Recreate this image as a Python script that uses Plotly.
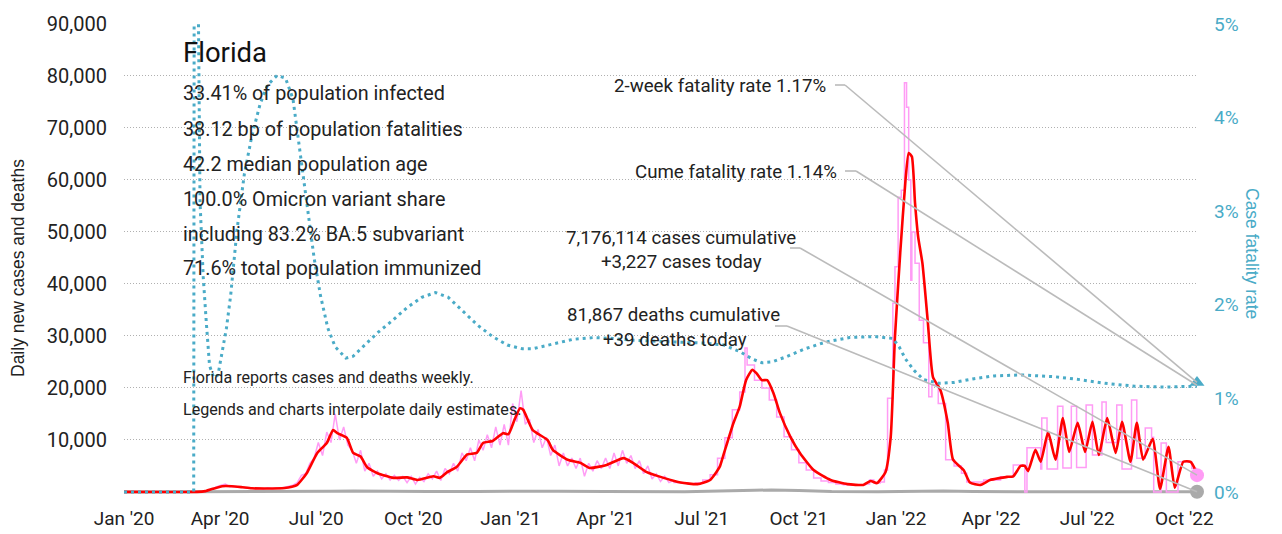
import plotly.graph_objects as go
import pandas as pd

FONT = "Roboto, sans-serif"
TITLE_FONT = "Liberation Sans, Arial, sans-serif"
TEAL = "#4aabc7"
PINK = "#ff9cf5"
RED = "#ff0000"
GRAY = "#aaaaaa"

# ---------------- data ----------------
red_dates = [
    "2020-01-01", "2020-03-10", "2020-03-18", "2020-03-25", "2020-04-03", "2020-04-12",
    "2020-04-22", "2020-05-01", "2020-05-15", "2020-06-01", "2020-06-08", "2020-06-13",
    "2020-06-22", "2020-07-02", "2020-07-11", "2020-07-17", "2020-07-21", "2020-07-30",
    "2020-08-05", "2020-08-12", "2020-08-18", "2020-08-28", "2020-09-12", "2020-09-25",
    "2020-10-05", "2020-10-20", "2020-10-26", "2020-11-02", "2020-11-11", "2020-11-21",
    "2020-11-30", "2020-12-06", "2020-12-15", "2020-12-25", "2020-12-30", "2021-01-05",
    "2021-01-10", "2021-01-13", "2021-01-22", "2021-02-05", "2021-02-10", "2021-02-24",
    "2021-03-08", "2021-03-17", "2021-04-02", "2021-04-18", "2021-04-27", "2021-05-10",
    "2021-05-26", "2021-06-11", "2021-06-27", "2021-07-09", "2021-07-18", "2021-07-21",
    "2021-07-31", "2021-08-06", "2021-08-12", "2021-08-18", "2021-08-22", "2021-08-27",
    "2021-09-01", "2021-09-07", "2021-09-13", "2021-09-23", "2021-10-02", "2021-10-15",
    "2021-10-31", "2021-11-16", "2021-12-01", "2021-12-08", "2021-12-14", "2021-12-22",
    "2021-12-27", "2021-12-31", "2022-01-05", "2022-01-10", "2022-01-13", "2022-01-16",
    "2022-01-19", "2022-01-22", "2022-01-26", "2022-01-31", "2022-02-05", "2022-02-12",
    "2022-02-19", "2022-02-24", "2022-03-06", "2022-03-12", "2022-03-22", "2022-03-31",
    "2022-04-10", "2022-04-16", "2022-04-22", "2022-04-29", "2022-05-03", "2022-05-06",
    "2022-05-13", "2022-05-18", "2022-05-25", "2022-06-01", "2022-06-08", "2022-06-14",
    "2022-06-22", "2022-06-29", "2022-07-06", "2022-07-12", "2022-07-20", "2022-07-28",
    "2022-08-03", "2022-08-11", "2022-08-17", "2022-08-23", "2022-09-01", "2022-09-08",
    "2022-09-16", "2022-09-22", "2022-09-30", "2022-10-07", "2022-10-13",
]
red_vals = [
    0, 0, 150, 600, 1100, 1100,
    900, 700, 650, 750, 1000, 1350,
    3600, 7500, 9400, 11900, 11300, 10400,
    7500, 6800, 4800, 3600, 2700, 2800,
    2300, 3000, 2700, 3800, 4800, 7200,
    7500, 9400, 9800, 11300, 11100, 14000,
    16100, 15800, 11900, 10000, 8100, 6200,
    5600, 4600, 5200, 6500, 5600, 3800,
    2700, 1800, 1500, 2300, 4800, 6700,
    13200, 16400, 21500, 23500, 22800, 21500,
    21500, 19000, 15200, 10600, 7500, 4200,
    2300, 1500, 1350, 2100, 1700, 3800,
    10600, 29800, 46000, 60000, 65200, 64500,
    55600, 49000, 44000, 33000, 22100, 19600,
    13300, 6200, 4200, 1800, 1350, 2300,
    2700, 2900, 3000, 5000, 5000, 4000,
    8100, 5800, 11500, 6200, 14200, 7700,
    13300, 7700, 13500, 7100, 14200, 7500,
    13500, 5800, 13300, 6200, 10200, 600,
    8700, 800, 5800, 5800, 3600,
]

# daily reported cases, daily reporting era (values every 4 days from start)
pink_a_start = "2020-03-01"
pink_a_vals = [
    0, 5, 10, 30, 100, 300, 700, 1000, 1300, 1500,
    1000, 1100, 900, 1000, 700, 800, 600, 700, 500, 800,
    600, 750, 650, 900, 1200, 1300, 1800, 3200, 3500, 5500,
    6500, 9500, 7000, 11500, 9500, 15000, 10000, 12500, 9000, 8000,
    5500, 8000, 4000, 5500, 3000, 4000, 2500, 3500, 2300, 3200,
    2200, 3000, 1800, 3000, 1500, 2800, 2000, 3500, 2500, 4000,
    2200, 4500, 3500, 5500, 4000, 7500, 6000, 8500, 6000, 10000,
    8000, 11000, 8500, 12500, 9000, 13000, 9000, 17000, 13500, 19500,
    13000, 14000, 9500, 12000, 8500, 10500, 7000, 9000, 5000, 7500,
    5000, 6500, 4500, 6500, 3000, 5500, 4000, 6000, 4500, 6500,
    4500, 7500, 5000, 8000, 5500, 7000, 4500, 6000, 3500, 5000,
    2500, 3500, 2000, 3000, 1800, 2200,
]

# reported cases, weekly / batch reporting era (held until next report)
pink_b_dates = [
    "2021-06-04", "2021-06-11", "2021-06-18", "2021-06-25", "2021-07-02", "2021-07-09",
    "2021-07-16", "2021-07-23", "2021-07-30", "2021-08-06", "2021-08-11", "2021-08-13",
    "2021-08-20", "2021-08-27", "2021-09-03", "2021-09-10", "2021-09-17", "2021-09-24",
    "2021-10-01", "2021-10-08", "2021-10-15", "2021-10-22", "2021-10-29", "2021-11-05",
    "2021-11-12", "2021-11-19", "2021-11-26", "2021-12-03", "2021-12-07", "2021-12-11",
    "2021-12-17", "2021-12-21", "2021-12-24", "2021-12-29", "2021-12-31", "2022-01-03",
    "2022-01-06", "2022-01-09", "2022-01-11", "2022-01-13", "2022-01-15", "2022-01-16",
    "2022-01-19", "2022-01-23", "2022-01-27", "2022-02-01", "2022-02-04", "2022-02-10",
    "2022-02-17", "2022-02-25", "2022-03-04", "2022-03-09", "2022-03-25", "2022-04-10",
    "2022-04-22", "2022-05-03", "2022-05-05", "2022-05-18", "2022-05-19", "2022-05-24",
    "2022-06-03", "2022-06-08", "2022-06-16", "2022-06-21", "2022-06-30", "2022-07-06",
    "2022-07-15", "2022-07-19", "2022-07-29", "2022-08-03", "2022-08-12", "2022-08-17",
    "2022-08-25", "2022-08-31", "2022-09-02", "2022-09-09", "2022-09-14", "2022-09-25",
    "2022-10-08", "2022-10-13",
]
pink_b_vals = [
    1800, 1700, 1500, 1700, 2300, 3300,
    6500, 10400, 15800, 19200, 27700, 24400,
    21500, 20000, 17700, 14400, 10600, 8100,
    5600, 4200, 2700, 2100, 1800, 1500,
    1400, 1300, 1400, 1500, 2300, 1700,
    1900, 4200, 18000, 36300, 43300, 56700,
    58000, 78700, 74000, 60000, 40700, 50000,
    44000, 33000, 28700, 18300, 20600, 17000,
    6200, 5000, 3600, 1900, 2300, 2900,
    5200, 0, 8500, 4400, 14200, 4400,
    16500, 4600, 16500, 4700, 16700, 7100,
    17300, 9500, 16700, 4400, 17700, 6500,
    12300, 10500, 0, 9400, 0, 5800,
    4500, 3227,
]

death_dates = [
    "2020-01-01", "2020-03-15", "2020-04-15", "2020-06-01", "2020-07-15", "2020-08-05",
    "2020-09-01", "2020-10-15", "2020-12-01", "2021-01-15", "2021-02-15", "2021-04-01",
    "2021-06-15", "2021-08-20", "2021-09-05", "2021-10-01", "2021-11-01", "2021-12-15",
    "2022-01-25", "2022-02-15", "2022-03-15", "2022-05-01", "2022-07-15", "2022-10-13",
]
death_vals = [
    0, 0, 50, 40, 120, 180,
    120, 70, 90, 180, 150, 70,
    40, 300, 380, 250, 60, 30,
    150, 180, 60, 20, 50, 39,
]

cfr_dates = [
    "2020-01-01", "2020-03-07", "2020-03-08", "2020-03-10", "2020-03-13", "2020-03-16",
    "2020-03-19", "2020-03-22", "2020-03-26", "2020-03-30", "2020-04-03", "2020-04-07",
    "2020-04-11", "2020-04-17", "2020-04-24", "2020-05-01", "2020-05-09", "2020-05-16",
    "2020-05-25", "2020-06-02", "2020-06-09", "2020-06-15", "2020-06-22", "2020-06-29",
    "2020-07-05", "2020-07-12", "2020-07-19", "2020-07-29", "2020-08-05", "2020-08-14",
    "2020-08-28", "2020-09-11", "2020-09-25", "2020-10-09", "2020-10-22", "2020-11-03",
    "2020-11-17", "2020-12-01", "2020-12-15", "2020-12-29", "2021-01-12", "2021-01-22",
    "2021-02-10", "2021-03-01", "2021-03-21", "2021-04-08", "2021-04-27", "2021-05-21",
    "2021-06-14", "2021-07-03", "2021-07-22", "2021-08-06", "2021-08-18", "2021-08-27",
    "2021-09-06", "2021-09-18", "2021-10-07", "2021-10-26", "2021-11-18", "2021-12-12",
    "2021-12-29", "2022-01-04", "2022-01-10", "2022-01-18", "2022-01-27", "2022-02-11",
    "2022-02-25", "2022-03-16", "2022-04-04", "2022-04-30", "2022-06-01", "2022-06-24",
    "2022-07-18", "2022-08-15", "2022-09-12", "2022-10-13",
]
cfr_vals = [
    0, 0, 12.0, 7.0, 3.1, 2.3,
    1.8, 1.35, 1.22, 1.25, 1.5, 1.75,
    2.1, 2.8, 3.4, 3.8, 4.15, 4.35,
    4.45, 4.42, 4.2, 3.7, 3.1, 2.5,
    2.1, 1.75, 1.55, 1.43, 1.45, 1.55,
    1.7, 1.83, 1.97, 2.08, 2.13, 2.08,
    1.93, 1.78, 1.66, 1.57, 1.53, 1.53,
    1.58, 1.63, 1.65, 1.64, 1.62, 1.61,
    1.60, 1.59, 1.57, 1.50, 1.42, 1.38,
    1.39, 1.44, 1.53, 1.60, 1.65, 1.66,
    1.64, 1.55, 1.42, 1.30, 1.20, 1.16,
    1.17, 1.21, 1.24, 1.25, 1.23, 1.20,
    1.16, 1.13, 1.12, 1.13,
]

x_tick_dates = ["2020-01-01", "2020-04-01", "2020-07-01", "2020-10-01", "2021-01-01",
                "2021-04-01", "2021-07-01", "2021-10-01", "2022-01-01", "2022-04-01",
                "2022-07-01", "2022-10-01"]
x_tick_labels = ["Jan '20", "Apr '20", "Jul '20", "Oct '20", "Jan '21", "Apr '21",
                 "Jul '21", "Oct '21", "Jan '22", "Apr '22", "Jul '22", "Oct '22"]
y_tick_vals = [10000, 20000, 30000, 40000, 50000, 60000, 70000, 80000, 90000]
y2_tick_vals = [0, 1, 2, 3, 4, 5]
y2_tick_labels = ["0%", "1%", "2%", "3%", "4%", "5%"]

first_date = "2020-01-01"
last_date = "2022-10-13"
cases_today = 3227
deaths_today = 39
fatality_2wk = 1.17
fatality_cume = 1.14
cases_cum = 7176114
deaths_cum = 81867

state = "Florida"
stats_lines = [
    "33.41% of population infected",
    "38.12 bp of population fatalities",
    "42.2 median population age",
    "100.0% Omicron variant share",
    "including 83.2% BA.5 subvariant",
    "71.6% total population immunized",
]
notes = [
    "Florida reports cases and deaths weekly.",
    "Legends and charts interpolate daily estimates.",
]

# ---------------- layout geometry ----------------
W, H = 1282, 534
ML, MR, MT, MB = 124, 85, 24, 40
PW, PH = W - ML - MR, H - MT - MB
Y0, Y1 = -400, 90000
Y2_0, Y2_1 = Y0 / Y1 * 5, 5


def fx(px):
    return (px - ML) / PW


def fy(py):
    return (H - MB - py) / PH


def yp(v):
    return (v - Y0) / (Y1 - Y0)


def y2p(v):
    return (v - Y2_0) / (Y2_1 - Y2_0)


pink_a_dates = pd.date_range(pink_a_start, periods=len(pink_a_vals), freq="4D")

fig = go.Figure()

fig.add_trace(go.Scatter(x=death_dates, y=death_vals, mode="lines",
                         line=dict(color=GRAY, width=3), hoverinfo="skip"))
fig.add_trace(go.Scatter(x=pink_a_dates, y=pink_a_vals, mode="lines",
                         line=dict(color=PINK, width=1.5), hoverinfo="skip"))
fig.add_trace(go.Scatter(x=pink_b_dates, y=pink_b_vals, mode="lines",
                         line=dict(color=PINK, width=1.5, shape="hv"), hoverinfo="skip"))
fig.add_trace(go.Scatter(x=red_dates, y=red_vals, mode="lines",
                         line=dict(color=RED, width=2.6, shape="spline", smoothing=0.5),
                         hoverinfo="skip"))
fig.add_trace(go.Scatter(x=cfr_dates, y=cfr_vals, yaxis="y2", mode="lines",
                         line=dict(color=TEAL, width=3, dash="3px,4px"), hoverinfo="skip"))

# end markers
fig.add_trace(go.Scatter(x=[last_date], y=[cases_today], mode="markers",
                         marker=dict(color=PINK, size=14), cliponaxis=False, hoverinfo="skip"))
fig.add_trace(go.Scatter(x=[last_date], y=[deaths_today], mode="markers",
                         marker=dict(color=GRAY, size=14), cliponaxis=False, hoverinfo="skip"))
fig.add_trace(go.Scatter(x=[last_date], y=[fatality_2wk], yaxis="y2", mode="markers",
                         marker=dict(color=TEAL, size=13, symbol="triangle-up"),
                         cliponaxis=False, hoverinfo="skip"))

annotations = []
annotations.append(dict(text=state, x=fx(181), y=fy(52.5), xref="paper", yref="paper",
                        xanchor="left", yanchor="middle", showarrow=False,
                        font=dict(size=27.5, color="#111")))
stat_y = [93.5, 129.5, 164.5, 199.5, 234, 268.5]
for t, yy in zip(stats_lines, stat_y):
    annotations.append(dict(text=t, x=fx(181), y=fy(yy), xref="paper", yref="paper",
                            xanchor="left", yanchor="middle", showarrow=False,
                            font=dict(size=19.8, color="#222")))
for t, yy in zip(notes, [377, 409]):
    annotations.append(dict(text=t, x=fx(181), y=fy(yy), xref="paper", yref="paper",
                            xanchor="left", yanchor="middle", showarrow=False,
                            font=dict(size=16.1, color="#222")))

right_labels = [
    (f"2-week fatality rate {fatality_2wk:.2f}%", 828, 86, "right"),
    (f"Cume fatality rate {fatality_cume:.2f}%", 839, 172, "right"),
    (f"{cases_cum:,} cases cumulative", 681, 238, "center"),
    (f"+{cases_today:,} cases today", 681, 262, "center"),
    (f"{deaths_cum:,} deaths cumulative", 673, 315, "center"),
    (f"+{deaths_today:,} deaths today", 675, 340, "center"),
]
for t, xx, yy, anc in right_labels:
    annotations.append(dict(text=t, x=fx(xx), y=fy(yy), xref="paper", yref="paper",
                            xanchor=anc, yanchor="middle", showarrow=False,
                            font=dict(size=18.7, color="#222")))

annotations.append(dict(text="Daily new cases and deaths", x=fx(18), y=fy(268),
                        xref="paper", yref="paper", textangle=-90, showarrow=False,
                        xanchor="center", yanchor="middle",
                        font=dict(family=TITLE_FONT, size=17.5, color="#222")))
annotations.append(dict(text="Case fatality rate", x=fx(1252), y=fy(253),
                        xref="paper", yref="paper", textangle=90, showarrow=False,
                        xanchor="center", yanchor="middle",
                        font=dict(family=TITLE_FONT, size=17.5, color=TEAL)))

# leader lines
leaders = [
    (835, 845, 85, y2p(fatality_2wk)),
    (845, 856, 171, y2p(fatality_cume)),
    (790, 800, 248, yp(cases_today)),
    (775, 787, 326, yp(deaths_today)),
]
shapes = []
for xs, xm, ys, yend in leaders:
    shapes.append(dict(type="line", xref="paper", yref="paper", x0=fx(xs), y0=fy(ys),
                       x1=fx(xm), y1=fy(ys), line=dict(color="#bbbbbb", width=1.6), layer="above"))
    shapes.append(dict(type="line", xref="paper", yref="paper", x0=fx(xm), y0=fy(ys),
                       x1=1.0, y1=yend, line=dict(color="#bbbbbb", width=1.6), layer="above"))

fig.update_layout(
    width=W, height=H,
    margin=dict(l=ML, r=MR, t=MT, b=MB, pad=0, autoexpand=False),
    paper_bgcolor="white", plot_bgcolor="white",
    showlegend=False,
    font=dict(family=FONT, color="#222"),
    annotations=annotations,
    shapes=shapes,
    xaxis=dict(range=[first_date, last_date], tickvals=x_tick_dates, ticktext=x_tick_labels,
               showgrid=False, zeroline=False, showline=False, ticks="", automargin=False,
               tickfont=dict(size=19, color="#222"), ticklabelstandoff=11),
    yaxis=dict(range=[Y0, Y1], tickvals=y_tick_vals, tickformat=",d", automargin=False,
               showgrid=True, gridcolor="#b0b0b0", griddash="1px,2px", gridwidth=1,
               zeroline=False, showline=False, ticks="",
               tickfont=dict(size=20, color="#222"), ticklabelstandoff=16),
    yaxis2=dict(range=[Y2_0, Y2_1], overlaying="y", side="right", tickvals=y2_tick_vals,
                ticktext=y2_tick_labels, showgrid=False, zeroline=False, showline=False,
                automargin=False, ticks="", tickfont=dict(size=19, color=TEAL),
                ticklabelstandoff=16),
)

fig.write_html("out.html", config={"displayModeBar": False},
               post_script="document.body.style.margin='0';document.body.style.overflow='hidden';")
